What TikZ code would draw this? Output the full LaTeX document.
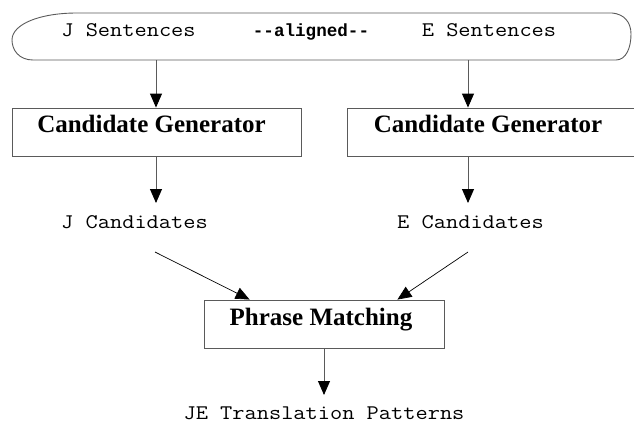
\documentclass[tikz,border=0pt]{standalone}
\usepackage{fontspec}
\setmainfont{Liberation Serif}
\setmonofont{Liberation Mono}
\newfontfamily\courfont[FakeStretch=1.14]{Latin Modern Mono}
\usetikzlibrary{arrows.meta}
\definecolor{linegray}{RGB}{90,90,90}
\tikzset{
  boxst/.style={draw=linegray, line width=0.9pt, minimum width=289pt, minimum height=48pt, inner sep=0pt},
  pmbox/.style={draw=linegray, line width=0.9pt, minimum width=240pt, minimum height=48pt, inner sep=0pt},
  monotxt/.style={font=\courfont\fontsize{20.8}{24}\selectfont, inner sep=0pt, anchor=base},
  boldmono/.style={font=\ttfamily\bfseries\fontsize{17.6}{20}\selectfont, inner sep=0pt, anchor=base},
  serifbold/.style={font=\rmfamily\bfseries\fontsize{25}{28}\selectfont, inner sep=0pt, anchor=base},
  varr/.style={draw=linegray, line width=0.9pt, -{Triangle[width=12pt,length=14pt,color=black]}},
  darr/.style={draw=black, line width=0.7pt, -{Triangle[width=12pt,length=14pt,color=black]}}
}
\begin{document}
\begin{tikzpicture}[x=1pt,y=-1pt]
\useasboundingbox (0,0) rectangle (634,423);
\clip (0,0) rectangle (634,423);
% top rounded box
\draw[linegray, line width=0.9pt] (77,13) -- (612,13)
  .. controls (624,14) and (631,22) .. (631,34)
  .. controls (631,48) and (626,60) .. (616,60)
  -- (33,60)
  .. controls (19,60) and (12,50) .. (12,40)
  .. controls (12,24) and (40,13) .. (77,13);
\node[monotxt] (js) at (128.5,36) {J Sentences};
\node[boldmono] (al) at (311,36) {{-}{-}aligned{-}{-}};
\node[monotxt] (es) at (489,36) {E Sentences};
\coordinate (jsout) at (156,60);
\coordinate (esout) at (468,60);
% candidate generator boxes
\node[boxst] (cgl) at (156.5,132) {};
\node[serifbold] (cglt) at (151.5,132.5) {Candidate Generator};
\node[boxst] (cgr) at (491.5,132) {};
\node[serifbold] (cgrt) at (488,132.5) {Candidate Generator};
\draw[varr] (jsout) -- (cgl.north -| jsout);
\draw[varr] (esout) -- (cgr.north -| esout);
% candidates
\node[monotxt] (jc) at (134.5,228) {J Candidates};
\node[monotxt] (ec) at (470.5,228) {E Candidates};
\coordinate (jcin) at (156,203);
\coordinate (ecin) at (468,203);
\draw[varr] (cgl.south -| jcin) -- (jcin);
\draw[varr] (cgr.south -| ecin) -- (ecin);
% phrase matching
\node[pmbox] (pm) at (324,324) {};
\node[serifbold] (pmt) at (321,325) {Phrase Matching};
\coordinate (jcout) at (155,252);
\coordinate (ecout) at (468,252);
\draw[darr] (jcout) -- ([xshift=46pt]pm.north west);
\draw[darr] (ecout) -- ([xshift=-47pt]pm.north east);
% output
\node[monotxt] (je) at (324,419) {JE Translation Patterns};
\coordinate (jein) at (324,395);
\draw[varr] (pm.south -| jein) -- (jein);
\end{tikzpicture}
\end{document}
